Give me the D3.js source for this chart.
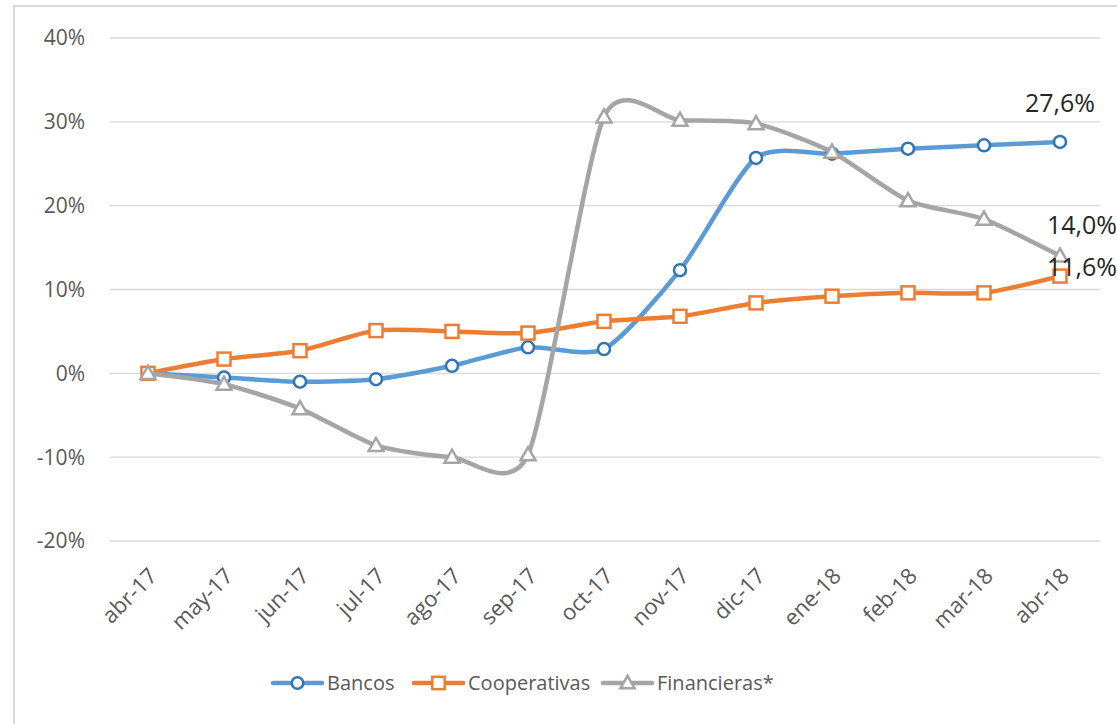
<!DOCTYPE html>
<html>
<head>
<meta charset="utf-8">
<script src="https://cdn.jsdelivr.net/npm/d3@7"></script>
<style>
  body { margin: 0; background: #fff; }
  svg { display: block; font-family: "Open Sans", sans-serif; }
</style>
</head>
<body>
<svg id="chart" width="1117" height="724"></svg>
<script>
const months = ["abr-17", "may-17", "jun-17", "jul-17", "ago-17", "sep-17", "oct-17",
                "nov-17", "dic-17", "ene-18", "feb-18", "mar-18", "abr-18"];
const bancos = [0, -0.5, -1.0, -0.7, 0.9, 3.1, 2.9, 12.3, 25.7, 26.2, 26.8, 27.2, 27.6];
const cooperativas = [0, 1.7, 2.7, 5.1, 5.0, 4.8, 6.2, 6.8, 8.4, 9.2, 9.6, 9.6, 11.6];
const financieras = [0, -1.3, -4.2, -8.6, -10.0, -9.7, 30.6, 30.2, 29.8, 26.4, 20.6, 18.4, 14.0];
const yTicks = [-20, -10, 0, 10, 20, 30, 40];

const series = [
  { name: "Bancos", values: bancos, color: "#5B9BD5", stroke: "#2E75B6", marker: "circle" },
  { name: "Cooperativas", values: cooperativas, color: "#ED7D31", stroke: "#ED7D31", marker: "square" },
  { name: "Financieras*", values: financieras, color: "#A5A5A5", stroke: "#A5A5A5", marker: "triangle" }
];

const svg = d3.select("#chart");

// chart frame
svg.append("rect")
  .attr("x", 14).attr("y", 6).attr("width", 1140).attr("height", 760)
  .attr("fill", "none").attr("stroke", "#D9D9D9").attr("stroke-width", 2);

const x = d3.scaleBand().domain(months).range([110, 1098]);
const y = d3.scaleLinear().domain([-20, 40]).range([541, 38]);
const cx = d => x(d) + x.bandwidth() / 2;

// grid
svg.append("g").selectAll("line").data(yTicks).join("line")
  .attr("x1", 110).attr("x2", 1100)
  .attr("y1", d => y(d)).attr("y2", d => y(d))
  .attr("stroke", "#D9D9D9").attr("stroke-width", 1.3);

// y labels
svg.append("g").selectAll("text").data(yTicks).join("text")
  .attr("x", 85).attr("y", d => y(d)).attr("dy", "0.35em")
  .attr("text-anchor", "end").attr("fill", "#595959").attr("font-size", 21)
  .text(d => d + "%");

// x labels
svg.append("g").selectAll("text").data(months).join("text")
  .attr("text-anchor", "end").attr("fill", "#595959").attr("font-size", 22)
  .attr("transform", d => `translate(${cx(d) + 5},${572}) rotate(-45)`)
  .attr("dy", "0.35em")
  .text(d => d);

const line = d3.line()
  .x((d, i) => cx(months[i]))
  .y(d => y(d))
  .curve(d3.curveCardinal.tension(0.3));

function drawMarker(g, type, px, py, s, c) {
  if (type === "circle") {
    g.append("circle").attr("cx", px).attr("cy", py).attr("r", 6 * s)
      .attr("fill", "#fff").attr("stroke", c).attr("stroke-width", 2.5);
  } else if (type === "square") {
    const h = 6.5 * s;
    g.append("rect").attr("x", px - h).attr("y", py - h).attr("width", 2 * h).attr("height", 2 * h)
      .attr("fill", "#fff").attr("stroke", c).attr("stroke-width", 2.5);
  } else {
    const h = 7.5 * s;
    g.append("path")
      .attr("d", `M${px},${py - h}L${px + h},${py + h * 0.75}L${px - h},${py + h * 0.75}Z`)
      .attr("fill", "#fff").attr("stroke", c).attr("stroke-width", 2.5);
  }
}

series.forEach(s => {
  const g = svg.append("g");
  g.append("path").datum(s.values)
    .attr("d", line).attr("fill", "none")
    .attr("stroke", s.color).attr("stroke-width", 4.5).attr("stroke-linecap", "round");
  s.values.forEach((v, i) => drawMarker(g, s.marker, cx(months[i]), y(v), 1, s.stroke));
});

// end labels
const last = months.length - 1;
const labels = [
  { v: bancos[last], dx: -35, dy: -39 },
  { v: financieras[last], dx: -13, dy: -31 },
  { v: cooperativas[last], dx: -13, dy: -9 }
];
svg.append("g").selectAll("text").data(labels).join("text")
  .attr("x", d => cx(months[last]) + d.dx)
  .attr("y", d => y(d.v) + d.dy)
  .attr("dy", "0.35em")
  .attr("fill", "#262626").attr("font-size", 25)
  .text(d => d.v.toFixed(1).replace(".", ",") + "%");

// legend
const legendItems = [
  { s: series[0], x0: 273 },
  { s: series[1], x0: 414 },
  { s: series[2], x0: 603 }
];
const ly = 683;
legendItems.forEach(({ s, x0 }) => {
  const g = svg.append("g");
  g.append("line").attr("x1", x0).attr("x2", x0 + 49).attr("y1", ly).attr("y2", ly)
    .attr("stroke", s.color).attr("stroke-width", 4.5).attr("stroke-linecap", "round");
  drawMarker(g, s.marker, x0 + 24.5, ly, 0.95, s.stroke);
  g.append("text").attr("x", x0 + 54).attr("y", ly).attr("dy", "0.35em")
    .attr("fill", "#595959").attr("font-size", 20).text(s.name);
});
</script>
</body>
</html>
